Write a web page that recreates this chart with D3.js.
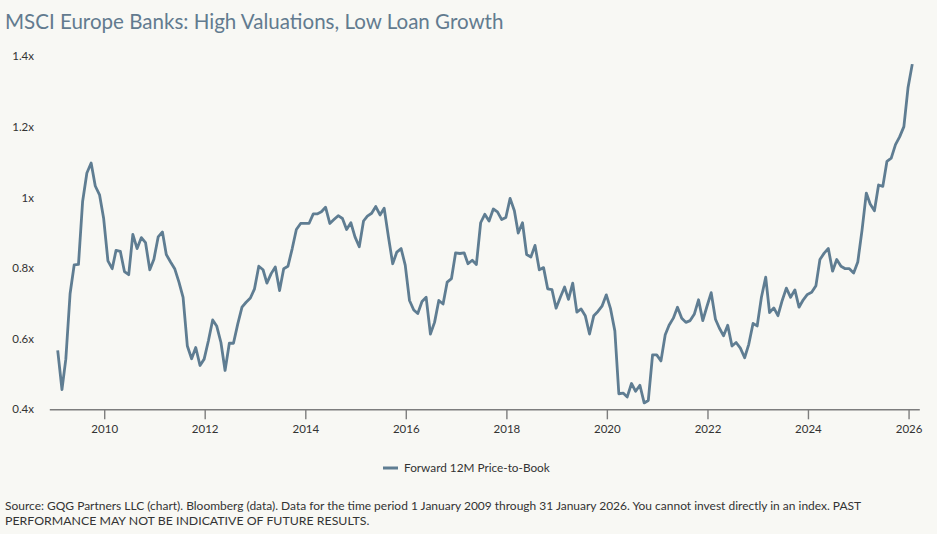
<!DOCTYPE html>
<html>
<head>
<meta charset="utf-8">
<script src="https://cdn.jsdelivr.net/npm/d3@7"></script>
<style>
  body { margin: 0; background: #f8f8f4; }
  svg { display: block; font-family: Lato, "Open Sans", sans-serif; }
</style>
</head>
<body>
<svg id="chart" width="937" height="534"></svg>
<script>
// monthly values, Jan 2009 .. Jan 2026
const startYear = 2009;
const priceToBook = [
  0.567,0.456,0.542,0.727,0.809,0.810,0.988,1.069,1.097,1.032,1.007,0.940,
  0.820,0.798,0.850,0.847,0.790,0.781,0.895,0.855,0.886,0.872,0.795,0.825,
  0.888,0.902,0.838,0.817,0.798,0.760,0.717,0.579,0.543,0.575,0.524,0.542,
  0.594,0.653,0.636,0.589,0.510,0.587,0.587,0.641,
  0.689,0.703,0.715,0.741,0.805,0.795,0.757,0.784,0.803,0.736,0.798,0.805,
  0.855,0.909,0.926,0.926,0.926,0.953,0.953,0.959,0.972,0.926,0.937,0.948,
  0.940,0.909,0.928,0.888,0.860,0.933,0.947,0.955,0.974,0.950,0.969,0.888,
  0.812,0.845,0.855,0.808,0.708,0.681,0.671,0.705,0.717,0.613,
  0.646,0.708,0.698,0.760,0.770,0.843,0.841,0.843,0.812,0.822,0.810,0.928,
  0.952,0.933,0.967,0.959,0.937,0.943,0.997,0.962,0.899,0.928,0.838,0.831,
  0.864,0.795,0.801,0.741,0.739,0.686,0.717,0.746,0.711,0.757,0.675,0.684,
  0.665,0.613,0.665,0.677,0.693,0.724,0.684,0.622,0.444,
  0.446,0.435,0.473,0.451,0.468,0.418,0.425,0.554,0.554,0.537,0.611,0.638,
  0.658,0.689,0.658,0.646,0.651,0.670,0.710,0.651,0.691,0.730,0.655,0.630,
  0.608,0.638,0.579,0.589,0.573,0.546,0.584,0.643,0.636,0.717,0.774,0.674,
  0.687,0.665,0.708,0.743,0.717,0.738,0.689,
  0.710,0.725,0.731,0.750,0.824,0.842,0.855,0.791,0.824,0.805,0.798,0.798,
  0.786,0.817,0.907,1.012,0.981,0.962,1.035,1.031,1.102,1.111,1.149,1.171,
  1.200,1.310,1.377
];
const yearTicks = [2010,2012,2014,2016,2018,2020,2022,2024,2026];
const yTicks = [0.4,0.6,0.8,1.0,1.2,1.4];
const yTickLabels = ["0.4x","0.6x","0.8x","1x","1.2x","1.4x"];
const seriesName = "Forward 12M Price-to-Book";
const title = "MSCI Europe Banks: High Valuations, Low Loan Growth";
const sourceLines = [
  "Source: GQG Partners LLC (chart). Bloomberg (data). Data for the time period 1 January 2009 through 31 January 2026. You cannot invest directly in an index. PAST",
  "PERFORMANCE MAY NOT BE INDICATIVE OF FUTURE RESULTS."
];
const sourceWidths = [857, 365];

const lineColor = "#5f7d92";
const svg = d3.select("#chart");

const data = priceToBook.map((v, i) => ({ date: new Date(startYear, i, 28), value: v }));

const x = d3.scaleTime()
  .domain([new Date(2008, 10, 28), new Date(2026, 2, 20)])
  .range([49.3, 919.3]);
const y = d3.scaleLinear().domain([0.4, 1.4]).range([409.3, 56]);

// squeeze/stretch a text to the width it has in the picture
function fitWidth(sel, target) {
  let len = sel.node().getComputedTextLength();
  let fs = parseFloat(sel.attr("font-size"));
  sel.attr("font-size", fs * target / len);
}

let t = svg.append("text")
  .attr("x", 5).attr("y", 28.5)
  .attr("font-size", 19)
  .attr("fill", "#627b8f")
  .text(title);
fitWidth(t, 499);

// x axis
const xAxis = svg.append("g")
  .attr("transform", "translate(0,409.3)")
  .call(d3.axisBottom(x)
    .tickValues(yearTicks.map(yr => new Date(yr, 0, 1)))
    .tickFormat(d3.timeFormat("%Y"))
    .tickSize(10)
    .tickSizeOuter(0)
    .tickPadding(6));
xAxis.select(".domain").attr("stroke", "#7d7d7d").attr("stroke-width", 1.4);
xAxis.selectAll(".tick line").attr("stroke", "#7d7d7d").attr("stroke-width", 1.4);
xAxis.selectAll(".tick text")
  .attr("fill", "#333")
  .attr("font-size", 11.5)
  .attr("font-family", "Lato, sans-serif");

// y axis, labels only
const yAxis = svg.append("g")
  .attr("transform", "translate(37,0)")
  .call(d3.axisLeft(y)
    .tickValues(yTicks)
    .tickFormat((d, i) => yTickLabels[i])
    .tickSize(0)
    .tickPadding(3));
yAxis.select(".domain").remove();
yAxis.selectAll(".tick text")
  .attr("fill", "#333")
  .attr("font-size", 11.5)
  .attr("font-family", "Lato, sans-serif");

// the series
const line = d3.line()
  .x(d => x(d.date))
  .y(d => y(d.value));

svg.append("path")
  .datum(data)
  .attr("fill", "none")
  .attr("stroke", lineColor)
  .attr("stroke-width", 2.8)
  .attr("stroke-linejoin", "round")
  .attr("d", line);

// legend
svg.append("line")
  .attr("x1", 383).attr("x2", 398)
  .attr("y1", 468).attr("y2", 468)
  .attr("stroke", lineColor).attr("stroke-width", 3);
let lg = svg.append("text")
  .attr("x", 404).attr("y", 472)
  .attr("font-size", 11.5)
  .attr("fill", "#333")
  .text(seriesName);
fitWidth(lg, 146);

// source note
sourceLines.forEach((s, i) => {
  let st = svg.append("text")
    .attr("x", 5).attr("y", 510 + i * 14.5)
    .attr("font-size", 11.5)
    .attr("fill", "#333")
    .text(s);
  fitWidth(st, sourceWidths[i]);
});
</script>
</body>
</html>
